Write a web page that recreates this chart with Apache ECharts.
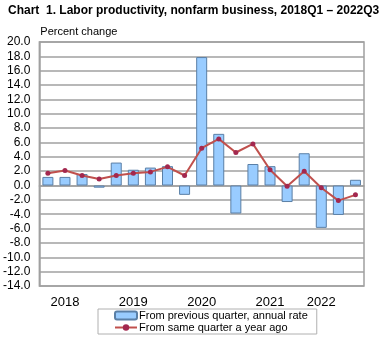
<!DOCTYPE html>
<html>
<head>
<meta charset="utf-8">
<script src="https://cdn.jsdelivr.net/npm/echarts@6/dist/echarts.min.js"></script>
<style>
  html, body { margin: 0; padding: 0; background: #ffffff; }
  #chart { width: 384px; height: 340px; }
</style>
</head>
<body>
<div id="chart"></div>
<script>
// Quarters 2018Q1 .. 2022Q3
const quarters = [
  '2018Q1', '2018Q2', '2018Q3', '2018Q4',
  '2019Q1', '2019Q2', '2019Q3', '2019Q4',
  '2020Q1', '2020Q2', '2020Q3', '2020Q4',
  '2021Q1', '2021Q2', '2021Q3', '2021Q4',
  '2022Q1', '2022Q2', '2022Q3'
];

// Year labels shown under the axis, keyed by quarter
const yearLabels = {
  '2018Q2': '2018',
  '2019Q2': '2019',
  '2020Q2': '2020',
  '2021Q2': '2021',
  '2022Q1': '2022'
};

// Percent change from previous quarter, annual rate
const quarterlyRate = [
  1.2, 1.2, 1.6, -0.3,
  3.2, 2.2, 2.5, 2.7,
  -1.3, 17.9, 7.2, -3.9,
  3.0, 2.7, -2.3, 4.5,
  -5.9, -4.1, 0.8
];

// Percent change from same quarter a year ago
const yearOverYear = [
  1.7, 2.1, 1.4, 0.9,
  1.4, 1.7, 1.9, 2.6,
  1.4, 5.2, 6.5, 4.6,
  5.8, 2.2, -0.1, 2.0,
  -0.3, -2.1, -1.3
];

const chart = echarts.init(document.getElementById('chart'), null, { renderer: 'canvas' });

const font = 'Liberation Sans, Arial, sans-serif';

chart.setOption({
  animation: false,
  backgroundColor: '#ffffff',
  textStyle: { fontFamily: font },
  title: {
    text: 'Chart  1. Labor productivity, nonfarm business, 2018Q1 \u2013 2022Q3',
    left: 8,
    top: 5,
    padding: 0,
    textStyle: { fontFamily: font, fontSize: 12, fontWeight: 'bold', color: '#000000' }
  },
  grid: {
    left: 39,
    right: 20,
    top: 42,
    bottom: 54,
    show: true,
    borderColor: '#a0a0a0',
    borderWidth: 1.5
  },
  legend: {
    orient: 'vertical',
    left: 98,
    top: 309,
    padding: [1, 9, 1, 16],
    itemGap: 1,
    itemWidth: 22,
    itemHeight: 8,
    borderColor: '#b0b0b0',
    borderWidth: 1,
    textStyle: { fontFamily: font, fontSize: 11, color: '#000000', padding: [0, 0, 0, -3] },
    data: ['From previous quarter, annual rate', 'From same quarter a year ago']
  },
  xAxis: {
    type: 'category',
    data: quarters,
    axisLine: { show: true, lineStyle: { color: '#a0a0a0', width: 1.5 } },
    axisTick: { show: false },
    axisLabel: {
      interval: 0,
      margin: 10,
      fontSize: 13,
      color: '#000000',
      fontFamily: font,
      formatter: function (v) { return yearLabels[v] || ''; }
    },
    splitLine: { show: false }
  },
  yAxis: {
    type: 'value',
    min: -14,
    max: 20,
    interval: 2,
    name: 'Percent change',
    nameLocation: 'end',
    nameGap: 5,
    nameTextStyle: { fontFamily: font, fontSize: 11, color: '#000000', align: 'left', padding: [0, 0, 0, 1] },
    axisLine: { show: true, lineStyle: { color: '#a0a0a0', width: 1.5 } },
    axisTick: { show: false },
    axisLabel: {
      margin: 9,
      fontSize: 12,
      color: '#000000',
      fontFamily: font,
      formatter: function (v) { return v.toFixed(1); }
    },
    splitLine: { show: true, lineStyle: { color: '#a0a0a0', width: 1.5 } }
  },
  series: [
    {
      name: 'From previous quarter, annual rate',
      type: 'bar',
      data: quarterlyRate,
      barWidth: 11,
      itemStyle: { color: '#99ccff', borderColor: '#5a7fa6', borderWidth: 1 },
      z: 2
    },
    {
      name: 'From same quarter a year ago',
      type: 'line',
      data: yearOverYear,
      symbol: 'circle',
      symbolSize: 5,
      lineStyle: { color: '#c0504d', width: 2 },
      itemStyle: { color: '#a3284f' },
      z: 3
    }
  ]
});
</script>
</body>
</html>
